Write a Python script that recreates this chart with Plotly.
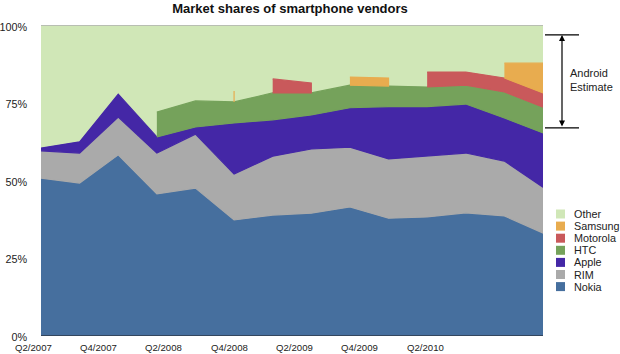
import plotly.graph_objects as go

# ---- data (percent market share) ----
quarters = ["Q2/2007", "Q3/2007", "Q4/2007", "Q1/2008", "Q2/2008", "Q3/2008", "Q4/2008",
            "Q1/2009", "Q2/2009", "Q3/2009", "Q4/2009", "Q1/2010", "Q2/2010", "Q3/2010"]
tick_labels = ["Q2/2007", "Q4/2007", "Q2/2008", "Q4/2008", "Q2/2009", "Q4/2009", "Q2/2010"]

nokia    = [50.6, 49.0, 58.1, 45.5, 47.4, 37.1, 38.7, 39.3, 41.3, 37.7, 38.1, 39.4, 38.4, 32.9]
rim      = [8.8, 9.7, 12.2, 13.2, 17.4, 14.8, 19.0, 20.7, 19.3, 19.1, 19.6, 19.3, 17.7, 14.8]
apple    = [0.9, 3.6, 7.4, 5.2, 2.3, 16.5, 11.7, 11.0, 12.7, 16.9, 16.0, 15.8, 13.9, 17.5]
htc      = [None, None, None, 8.0, 8.4, 6.8, 8.7, 7.1, 7.3, 6.6, 6.3, 6.1, 8.4, 8.3]
motorola = [None, None, None, None, None, None, 4.5, 3.2, None, None, 4.8, 4.2, 4.5, 4.6]
samsung  = [None, None, None, None, None, 3.5, None, None, 2.6, 2.6, None, None, 4.8, 9.6]
other    = [39.7, 37.7, 22.3, 28.1, 24.5, 21.3, 17.4, 18.7, 16.8, 17.1, 15.2, 15.2, 12.3, 12.3]

series_names = ["Nokia", "RIM", "Apple", "HTC", "Motorola", "Samsung", "Other"]
series_values = [nokia, rim, apple, htc, motorola, samsung, other]
series_colors = ["#466f9e", "#aaaaaa", "#4427a6", "#75a25b", "#c9595b", "#e8ac4f", "#d0e7b7"]

FONT = "Liberation Sans, Arial, Helvetica, sans-serif"

n = len(quarters)
xs_idx = list(range(n))

# cumulative bases (missing values count as zero)
bases = []
base = [0.0] * n
for vals in series_values:
    bases.append(base)
    base = [base[i] + (vals[i] if vals[i] is not None else 0) for i in range(n)]
totals = base


def runs_of(vals):
    runs, cur = [], []
    for i, v in enumerate(vals):
        if v is None:
            if cur:
                runs.append(cur)
                cur = []
        else:
            cur.append(i)
    if cur:
        runs.append(cur)
    return runs


fig = go.Figure()

# "Other" is the topmost band; drawn first, reaching down behind the other bands
fig.add_trace(go.Scatter(
    x=xs_idx + list(reversed(xs_idx)),
    y=totals + [0.0] * n,
    mode="lines", fill="toself", fillcolor=series_colors[-1],
    line=dict(color=series_colors[-1], width=0), name=series_names[-1],
    showlegend=False, hoverinfo="skip"))

for name, vals, col, bs in zip(series_names[:-1], series_values[:-1], series_colors[:-1], bases[:-1]):
    px, py = [], []
    for run in runs_of(vals):
        top = [bs[i] + vals[i] for i in run]
        bot = [bs[i] for i in run]
        px += [xs_idx[i] for i in run] + [xs_idx[i] for i in reversed(run)] + [None]
        py += top + list(reversed(bot)) + [None]
    fig.add_trace(go.Scatter(x=px, y=py, mode="lines", fill="toself", fillcolor=col,
                             line=dict(color=col, width=1.2), name=name,
                             showlegend=False, hoverinfo="skip"))

# x tick labels (the source chart places them on its own spacing, in category units)
first_pos, step = -0.195, 1.69
annotations = []
for k, lab in enumerate(tick_labels):
    annotations.append(dict(x=(first_pos + k * step) / (n - 1), xref="paper", y=0, yref="paper",
                            text=lab, showarrow=False, xanchor="center", yanchor="middle",
                            yshift=-12, font=dict(size=9.6, color="#222", family=FONT)))

# manual legend (top to bottom)
shapes = []
leg_top = 214  # px of first row centre
for r, (name, col) in enumerate(zip(reversed(series_names), reversed(series_colors))):
    yc = leg_top + r * 12.1
    y_paper = (335 - yc) / 310
    shapes.append(dict(type="rect", xref="paper", yref="paper",
                       x0=(556 - 41) / 502, x1=(565 - 41) / 502,
                       y0=y_paper - 4.5 / 310, y1=y_paper + 4.5 / 310,
                       fillcolor=col, line=dict(width=0)))
    annotations.append(dict(x=(572 - 41) / 502, xref="paper", y=y_paper, yref="paper",
                            text=name, showarrow=False, xanchor="left", yanchor="middle",
                            font=dict(size=10.8, color="#222", family=FONT)))

# top border line
shapes.append(dict(type="line", xref="paper", yref="y", x0=0, x1=1, y0=100, y1=100,
                   line=dict(color="#b0b0b0", width=1.5), layer="above"))

# Android estimate bracket
est_top, est_bot = 96.8, 66.8
for yv in (est_top, est_bot):
    shapes.append(dict(type="line", xref="paper", yref="y",
                       x0=(545 - 41) / 502, x1=(579 - 41) / 502, y0=yv, y1=yv,
                       line=dict(color="black", width=1.2)))
annotations.append(dict(x=(562 - 41) / 502, xref="paper", y=est_top, yref="y",
                        ax=0, ay=93, text="", showarrow=True, arrowside="end+start",
                        arrowhead=2, arrowsize=1, arrowwidth=1.2, arrowcolor="black",
                        standoff=0, startstandoff=0))
annotations.append(dict(x=(568 - 41) / 502, xref="paper", y=82.3, yref="y",
                        text="Android<br>Estimate", showarrow=False, xanchor="left",
                        yanchor="middle", align="left",
                        font=dict(size=11, color="#222", family=FONT)))

fig.update_layout(
    width=620, height=354,
    margin=dict(l=41, r=77, t=25, b=19),
    paper_bgcolor="white", plot_bgcolor="white",
    title=dict(text="<b>Market shares of smartphone vendors</b>", x=290 / 620, xanchor="center",
               y=1 - 8 / 354, yanchor="middle", yref="container",
               font=dict(size=13, color="#111", family=FONT)),
    xaxis=dict(range=[0, n - 1], showgrid=False, zeroline=False, showticklabels=False,
               ticks="", showline=True, linecolor="#33465e", linewidth=1, fixedrange=True,
               automargin=False),
    yaxis=dict(range=[0, 100], tickvals=[0, 25, 50, 75, 100],
               ticktext=["0%", "25%", "50%", "75%", "100%"], showgrid=False, zeroline=False,
               ticks="", ticklabelstandoff=13, ticklabelshift=2, automargin=False,
               tickfont=dict(size=10.8, color="#222", family=FONT), fixedrange=True),
    shapes=shapes, annotations=annotations, showlegend=False,
)

fig.write_html("out.html")
